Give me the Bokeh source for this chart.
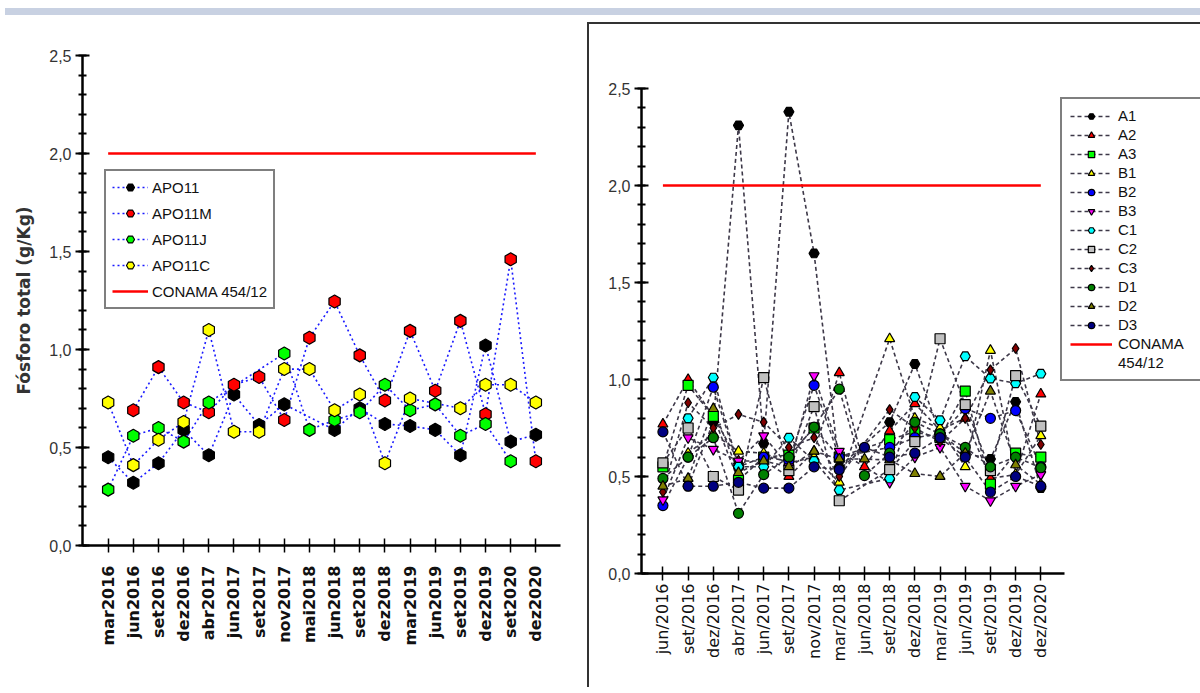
import numpy as np
from bokeh.plotting import figure
from bokeh.models import (Range1d, FixedTicker, SingleIntervalTicker, CustomJSTickFormatter,
                          Legend, LegendItem, Div)
from bokeh.layouts import row, column
from bokeh.embed import file_html
from bokeh.resources import INLINE

nan = float("nan")

# ---------------- left chart data ----------------
left_dates = ["mar2016", "jun2016", "set2016", "dez2016", "abr2017", "jun2017", "set2017",
              "nov2017", "mai2018", "jun2018", "set2018", "dez2018", "mar2019", "jun2019",
              "set2019", "dez2019", "set2020", "dez2020"]
apo11 = [0.45, 0.32, 0.42, 0.59, 0.46, 0.77, 0.615, 0.72, nan, 0.59, 0.70, 0.62, 0.61, 0.59,
         0.46, 1.02, 0.53, 0.565]
apo11m = [nan, 0.69, 0.91, 0.73, 0.68, 0.82, 0.86, 0.64, 1.06, 1.245, 0.97, 0.74, 1.095, 0.79,
          1.146, 0.67, 1.46, 0.43]
apo11j = [0.285, 0.56, 0.60, 0.53, 0.73, nan, nan, 0.98, 0.59, 0.64, 0.68, 0.82, 0.69, 0.72,
          0.56, 0.62, 0.43, nan]
apo11c = [0.73, 0.41, 0.54, 0.63, 1.10, 0.58, 0.58, 0.90, 0.90, 0.69, 0.77, 0.42, 0.75, nan,
          0.70, 0.82, 0.82, 0.73]
left_names = ["APO11", "APO11M", "APO11J", "APO11C"]
left_colors = ["#000000", "#ff0000", "#00ff00", "#ffff00"]
conama = 2.0

# ---------------- right chart data ----------------
right_dates = ["jun/2016", "set/2016", "dez/2016", "abr/2017", "jun/2017", "set/2017", "nov/2017",
               "mar/2018", "jun/2018", "set/2018", "dez/2018", "mar/2019", "jun/2019", "set/2019",
               "dez/2019", "dez/2020"]
A1 = [nan, 0.45, 0.78, 2.31, 0.67, 2.38, 1.65, 0.55, nan, 0.78, 1.08, 0.72, 0.62, 0.59, 0.885, 0.44]
A2 = [0.77, 1.00, 0.81, 0.58, 0.58, 0.50, 0.63, 1.035, 0.55, 0.735, 0.875, 0.74, 0.80, 0.49, 0.51, 0.925]
A3 = [0.55, 0.97, 0.81, 0.48, 0.60, 0.61, 0.75, 0.60, nan, 0.69, 0.73, 0.70, 0.94, 0.46, 0.62, 0.60]
B1 = [nan, 0.62, 0.72, 0.63, 0.62, 0.57, 0.60, 0.47, nan, 1.21, 0.80, 0.75, 0.55, 1.15, 0.51, 0.71]
B2 = [0.35, 0.60, 0.96, 0.55, 0.60, 0.58, 0.97, 0.60, nan, 0.65, 0.70, 0.72, 0.85, 0.80, 0.84, 0.55]
B3 = [0.38, 0.70, 0.64, 0.58, 0.71, 0.55, 1.02, 0.63, nan, 0.47, 0.60, 0.65, 0.45, 0.375, 0.45, 0.51]
C1 = [nan, 0.80, 1.01, 0.55, 0.55, 0.70, 0.58, 0.43, nan, 0.49, 0.91, 0.79, 1.12, 1.005, 0.98, 1.03]
C2 = [0.57, 0.75, 0.50, 0.43, 1.01, 0.53, 0.86, 0.375, nan, 0.535, 0.68, 1.21, 0.87, 0.53, 1.02, 0.76]
C3 = [0.42, 0.88, 0.75, 0.82, 0.78, 0.65, 0.70, 0.50, nan, 0.845, 0.75, 0.68, 0.80, 1.05, 1.16, 0.665]
D1 = [0.49, 0.60, 0.70, 0.31, 0.51, 0.60, 0.755, 0.95, 0.505, 0.62, 0.78, 0.72, 0.65, 0.55, 0.60, 0.545]
D2 = [0.45, 0.49, 0.85, 0.52, 0.58, 0.55, 0.63, 0.59, 0.59, 0.585, 0.515, 0.50, 0.62, 0.94, 0.56, 0.46]
D3 = [0.73, 0.45, 0.45, 0.47, 0.44, 0.44, 0.55, 0.535, 0.65, 0.60, 0.62, 0.70, 0.60, 0.42, 0.50, 0.45]
right_names = ["A1", "A2", "A3", "B1", "B2", "B3", "C1", "C2", "C3", "D1", "D2", "D3"]
right_series = [A1, A2, A3, B1, B2, B3, C1, C2, C3, D1, D2, D3]
right_colors = ["#000000", "#ff0000", "#00ff00", "#ffff00", "#0000ff", "#ff00ff",
                "#00ffff", "#c0c0c0", "#800000", "#008000", "#808000", "#000080"]
right_markers = ["hex", "triangle", "square", "triangle", "circle", "inverted_triangle",
                 "hex", "square", "diamond", "circle", "triangle", "circle"]
conama_label = ["CONAMA", "454/12"]

FONT = "Liberation Sans"
WFONT = "DejaVu Sans"
comma_fmt = CustomJSTickFormatter(code="return tick.toFixed(1).replace('.', ',');")


def style(p, dates, xstandoff, xbold):
    p.outline_line_color = None
    p.grid.visible = False
    p.background_fill_color = "white"
    p.border_fill_color = "white"
    # x axis
    p.xaxis.ticker = FixedTicker(ticks=list(range(len(dates))))
    p.xaxis.major_label_overrides = {i: d for i, d in enumerate(dates)}
    p.xaxis.major_label_orientation = np.pi / 2
    p.xaxis.axis_line_width = 2.5
    p.xaxis.major_tick_in = 7
    p.xaxis.major_tick_out = 7
    p.xaxis.major_tick_line_width = 1.5
    p.xaxis.minor_tick_line_color = None
    p.xaxis.major_label_text_font = WFONT
    p.xaxis.major_label_text_font_size = "16px"
    p.xaxis.major_label_text_font_style = "bold" if xbold else "normal"
    p.xaxis.major_label_text_color = "#111111"
    p.xaxis.major_label_standoff = xstandoff
    # y axis
    p.yaxis.ticker = SingleIntervalTicker(interval=0.5, num_minor_ticks=5)
    p.yaxis.formatter = comma_fmt
    p.yaxis.axis_line_width = 2.5
    p.yaxis.major_tick_in = 7
    p.yaxis.major_tick_out = 7
    p.yaxis.major_tick_line_width = 2
    p.yaxis.minor_tick_in = 4
    p.yaxis.minor_tick_out = 4
    p.yaxis.minor_tick_line_width = 2
    p.yaxis.major_label_text_font = FONT
    p.yaxis.major_label_text_font_size = "16px"
    p.yaxis.major_label_text_color = "#333333"
    p.yaxis.major_label_standoff = 4


# ---------------- left figure ----------------
p1 = figure(width=587, height=665, min_border_left=82, min_border_right=27,
            min_border_top=33, min_border_bottom=142,
            x_range=Range1d(-1.02, 17.98), y_range=Range1d(0, 2.5),
            output_backend="svg", toolbar_location=None)
style(p1, left_dates, 13, True)
p1.yaxis.axis_label = "Fósforo total (g/Kg)"
p1.yaxis.axis_label_text_font = WFONT
p1.yaxis.axis_label_text_font_size = "17px"
p1.yaxis.axis_label_text_font_style = "bold"
p1.yaxis.axis_label_text_color = "#333333"
p1.yaxis.axis_label_standoff = 12

xl = np.arange(len(left_dates))
left_items = []
lines1 = []
for name, ser in zip(left_names, [apo11, apo11m, apo11j, apo11c]):
    y = np.array(ser, dtype=float)
    m = ~np.isnan(y)
    lines1.append(p1.line(xl[m], y[m], line_color="#1a1aff", line_width=1.6, line_dash="2 3"))
for name, ser, col, lr in zip(left_names, [apo11, apo11m, apo11j, apo11c], left_colors, lines1):
    y = np.array(ser, dtype=float)
    m = ~np.isnan(y)
    sr = p1.scatter(xl[m], y[m], marker="hex", size=13, angle=np.pi / 2, fill_color=col,
                    line_color="black", line_width=1.2)
    left_items.append(LegendItem(label=name, renderers=[lr, sr]))
cl = p1.line([xl[0], xl[-1]], [conama, conama], line_color="#ff0000", line_width=2.5)
left_items.append(LegendItem(label="CONAMA 454/12", renderers=[cl]))
leg1 = Legend(items=left_items, location=(22, 236), border_line_color="black",
              border_line_width=2.5, padding=6, spacing=6, glyph_width=36, glyph_height=20,
              label_height=20, label_standoff=4, label_text_font=FONT,
              label_text_font_size="15px", label_text_color="#111111", margin=0)
p1.add_layout(leg1, "center")

# ---------------- right figure ----------------
# frame runs to the page edge so that the legend (placed inside it) is not clipped;
# the x axis line itself is bounded to the category span
px_per_cat = 423 / 16.79
x_end = -0.85 + 561 / px_per_cat
p2 = figure(width=613, height=665, min_border_left=52, min_border_right=0,
            min_border_top=64, min_border_bottom=116,
            x_range=Range1d(-0.85, x_end), y_range=Range1d(0, 2.5),
            output_backend="svg", toolbar_location=None)
style(p2, right_dates, 3, False)
p2.xaxis.bounds = (-0.85, 15.94)
p2.styles = {"border-left": "2px solid #333333", "border-top": "2px solid #333333"}

xr = np.arange(len(right_dates))
right_items = []
lines2 = []
for ser in right_series:
    y = np.array(ser, dtype=float)
    m = ~np.isnan(y)
    lines2.append(p2.line(xr[m], y[m], line_color="#3d3848", line_width=1.6, line_dash="4 3"))
cr = p2.line([xr[0], xr[-1]], [conama, conama], line_color="#ff0000", line_width=2.5)
for name, ser, col, mk, lr in zip(right_names, right_series, right_colors, right_markers, lines2):
    y = np.array(ser, dtype=float)
    m = ~np.isnan(y)
    sr = p2.scatter(xr[m], y[m], marker=mk, size=10, fill_color=col, line_color="black",
                    line_width=1.2)
    right_items.append(LegendItem(label=name, renderers=[lr, sr]))
right_items.append(LegendItem(label=conama_label[0], renderers=[cr]))
blank = p2.line([xr[0], xr[0]], [conama, conama], line_alpha=0)
right_items.append(LegendItem(label=conama_label[1], renderers=[blank]))
leg2 = Legend(items=right_items, location=(419, 192), border_line_color="black",
              border_line_width=2.5, padding=8, spacing=2, glyph_width=42, glyph_height=16,
              label_height=16, label_width=90, label_standoff=6, label_text_font=FONT,
              label_text_font_size="15px", label_text_color="#111111", margin=0)
p2.add_layout(leg2, "center")

bar = Div(text="", width=1200, height=12,
          styles={"background": "linear-gradient(#ffffff 0px, #ffffff 3px, #c8d1e2 3px, #c8d1e2 10px, #ffffff 10px)"})

layout = column(bar, row(column(p1), column(p2), spacing=0), spacing=0)

with open("out.html", "w") as f:
    f.write(file_html(layout, INLINE))
